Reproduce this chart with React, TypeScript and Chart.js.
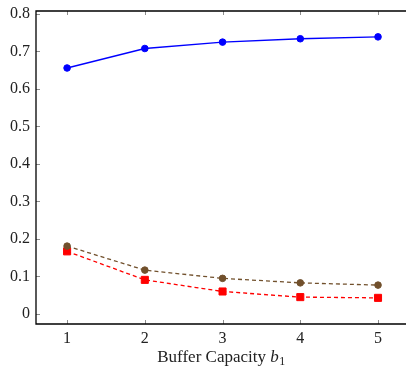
import React, { useEffect, useRef } from "react";
import { Chart, registerables } from "chart.js";

Chart.register(...registerables);

const capacities = [1, 2, 3, 4, 5];
const blueSeries = [0.656, 0.708, 0.725, 0.734, 0.739];
const brownSeries = [0.181, 0.117, 0.095, 0.083, 0.077];
const redSeries = [0.167, 0.091, 0.060, 0.045, 0.043];
const yTicks = [0, 0.1, 0.2, 0.3, 0.4, 0.5, 0.6, 0.7, 0.8];
const xTicks = [1, 2, 3, 4, 5];

const FONT = "'Liberation Serif', 'Times New Roman', serif";

const framePlugin = {
  id: "frame",
  afterDraw(chart: any) {
    const { ctx, chartArea, scales } = chart;
    const { left, right, top, bottom } = chartArea;
    const xs = scales.x;
    const ys = scales.y;
    ctx.save();
    ctx.strokeStyle = "#8c8c8c";
    ctx.lineWidth = 1;
    const tl = 4;
    ctx.beginPath();
    xTicks.forEach((t) => {
      const px = Math.round(xs.getPixelForValue(t)) + 0.5;
      ctx.moveTo(px, bottom);
      ctx.lineTo(px, bottom - tl);
      ctx.moveTo(px, top);
      ctx.lineTo(px, top + tl);
    });
    yTicks.forEach((t) => {
      const py = Math.round(ys.getPixelForValue(t)) + 0.5;
      ctx.moveTo(left, py);
      ctx.lineTo(left + tl, py);
    });
    ctx.stroke();
    ctx.strokeStyle = "#000";
    ctx.lineWidth = 1.3;
    ctx.beginPath();
    ctx.moveTo(right + 2, top);
    ctx.lineTo(left, top);
    ctx.lineTo(left, bottom);
    ctx.lineTo(right + 2, bottom);
    ctx.stroke();
    const cx = (left + right) / 2;
    const baseY = 362;
    const part1 = "Buffer Capacity ";
    const part2 = "b";
    const part3 = "1";
    ctx.fillStyle = "#222";
    ctx.textBaseline = "alphabetic";
    ctx.textAlign = "left";
    ctx.font = `17px ${FONT}`;
    const w1 = ctx.measureText(part1).width;
    ctx.font = `italic 17px ${FONT}`;
    const w2 = ctx.measureText(part2).width;
    ctx.font = `12px ${FONT}`;
    const w3 = ctx.measureText(part3).width;
    let x = cx - (w1 + w2 + w3) / 2;
    ctx.font = `17px ${FONT}`;
    ctx.fillText(part1, x, baseY);
    x += w1;
    ctx.font = `italic 17px ${FONT}`;
    ctx.fillText(part2, x, baseY);
    x += w2 + 0.5;
    ctx.font = `12px ${FONT}`;
    ctx.fillText(part3, x, baseY + 3);
    ctx.restore();
  },
};

export default function App() {
  const ref = useRef<HTMLCanvasElement>(null);

  useEffect(() => {
    if (!ref.current) return;
    const chart = new Chart(ref.current, {
      type: "line",
      data: {
        datasets: [
          {
            data: capacities.map((c, i) => ({ x: c, y: blueSeries[i] })),
            borderColor: "#0000ff",
            backgroundColor: "#0000ff",
            borderWidth: 1.3,
            pointStyle: "circle",
            pointRadius: 3.3,
            pointBorderWidth: 1,
            fill: false,
          },
          {
            data: capacities.map((c, i) => ({ x: c, y: brownSeries[i] })),
            borderColor: "#71502c",
            backgroundColor: "#71502c",
            borderWidth: 1.3,
            borderDash: [4, 3],
            pointStyle: "circle",
            pointRadius: 3.3,
            pointBorderWidth: 1,
            fill: false,
          },
          {
            data: capacities.map((c, i) => ({ x: c, y: redSeries[i] })),
            borderColor: "#ff0000",
            backgroundColor: "#ff0000",
            borderWidth: 1.3,
            borderDash: [4, 3],
            pointStyle: "rect",
            pointRadius: 5,
            pointBorderWidth: 1,
            fill: false,
          },
        ],
      },
      options: {
        animation: false,
        responsive: false,
        maintainAspectRatio: false,
        layout: { autoPadding: false, padding: { top: 11, right: 0, left: 0, bottom: 0 } },
        plugins: {
          legend: { display: false },
          tooltip: { enabled: false },
        },
        scales: {
          x: {
            type: "linear",
            min: 0.6,
            max: 5.36,
            grid: { display: false, drawTicks: false },
            border: { display: false },
            afterFit(scale: any) {
              scale.height = 43;
              scale.paddingLeft = 0;
              scale.paddingRight = 0;
            },
            afterBuildTicks(scale: any) {
              scale.ticks = xTicks.map((v) => ({ value: v }));
            },
            ticks: {
              padding: 5,
              color: "#222",
              font: { family: FONT, size: 16 },
              callback: (v: any) => String(v),
            },
          },
          y: {
            type: "linear",
            min: -0.0267,
            max: 0.808,
            grid: { display: false, drawTicks: false },
            border: { display: false },
            afterFit(scale: any) {
              scale.width = 36;
              scale.paddingTop = 0;
              scale.paddingBottom = 0;
            },
            afterBuildTicks(scale: any) {
              scale.ticks = yTicks.map((v) => ({ value: v }));
            },
            ticks: {
              padding: 6,
              color: "#222",
              font: { family: FONT, size: 16 },
              callback: (v: any) => (v === 0 ? "0" : Number(v).toFixed(1)),
            },
          },
        },
      },
      plugins: [framePlugin],
    });
    return () => chart.destroy();
  }, []);

  return (
    <div style={{ position: "absolute", left: 0, top: 0, width: 406, height: 367 }}>
      <canvas ref={ref} width={406} height={367} style={{ width: 406, height: 367 }} />
    </div>
  );
}
